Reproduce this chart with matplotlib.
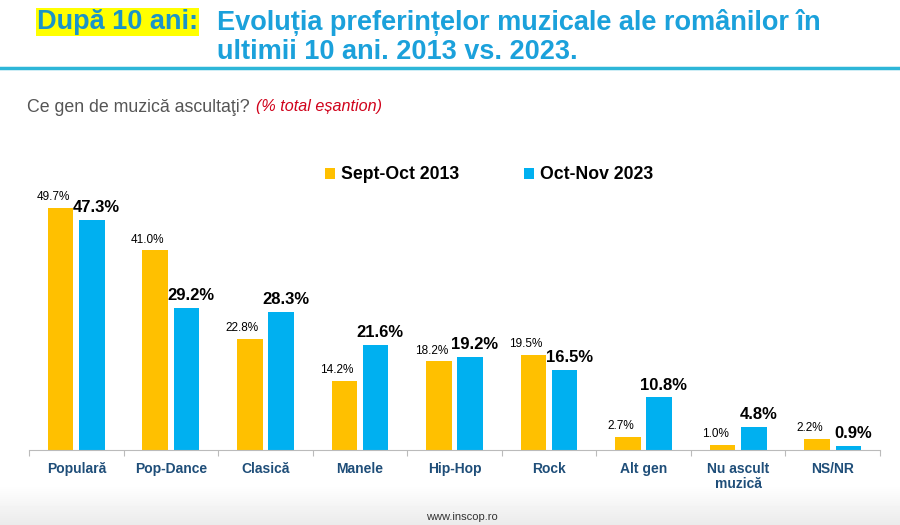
import numpy as np
import matplotlib.pyplot as plt

plt.rcParams['font.family'] = ['Liberation Sans', 'DejaVu Sans']

categories = ["Populară", "Pop-Dance", "Clasică", "Manele", "Hip-Hop", "Rock",
              "Alt gen", "Nu ascult\nmuzică", "NS/NR"]
values_2013 = [49.7, 41.0, 22.8, 14.2, 18.2, 19.5, 2.7, 1.0, 2.2]
values_2023 = [47.3, 29.2, 28.3, 21.6, 19.2, 16.5, 10.8, 4.8, 0.9]
series_names = ["Sept-Oct 2013", "Oct-Nov 2023"]

orange = "#FFC000"
blue = "#00B0F0"
title_blue = "#1BA1DB"
cat_color = "#1F4E79"

fig = plt.figure(figsize=(9, 5.25), dpi=100)

# soft grey band at the bottom of the slide
bg = fig.add_axes([0, 0, 1, 1], zorder=-10)
grad = np.ones((525, 1))
ramp = np.linspace(0, 1, 40)
grad[-40:, 0] = 1 - 0.08 * ramp
bg.imshow(grad, cmap="gray", vmin=0, vmax=1, aspect="auto", extent=[0, 1, 0, 1])
bg.axis("off")

# title
tsize = 19.5
fig.text(37 / 900, 1 - 22 / 525, "După 10 ani:", color="#1A94C8", fontsize=tsize,
         fontweight="bold", va="center", ha="left",
         bbox=dict(facecolor="#FFFF00", edgecolor="none", pad=1.0))
fig.text(217 / 900, 1 - 22 / 525, "Evoluția preferințelor muzicale ale românilor în",
         color=title_blue, fontsize=tsize, fontweight="bold", va="center", ha="left")
fig.text(217 / 900, 1 - 52 / 525, "ultimii 10 ani. 2013 vs. 2023.",
         color=title_blue, fontsize=tsize, fontweight="bold", va="center", ha="left")
fig.add_artist(plt.Line2D([0, 1], [1 - 68 / 525] * 2, color="#2DB6D8", lw=2.5))

# question line
fig.text(27 / 900, 1 - 107 / 525, "Ce gen de muzică ascultaţi?", color="#555555",
         fontsize=12.8, va="center", ha="left")
fig.text(256 / 900, 1 - 107 / 525, "(% total eșantion)", color="#D0021B", fontsize=11.6,
         style="italic", va="center", ha="left")

ax = fig.add_axes([29 / 900, 1 - 450 / 525, 851 / 900, 260 / 525])
x = np.arange(len(categories))
w = 0.27
off = 0.165
b1 = ax.bar(x - off, values_2013, w, color=orange, label=series_names[0])
b2 = ax.bar(x + off, values_2023, w, color=blue, label=series_names[1])

for xi, v in zip(x, values_2013):
    ax.text(xi - off - 0.08, v + 1.0, f"{v:.1f}%", ha="center", va="bottom", fontsize=8.5)
for xi, v in zip(x, values_2023):
    ax.text(xi + off + 0.05, v + 1.0, f"{v:.1f}%", ha="center", va="bottom",
            fontsize=12, fontweight="bold")

ax.set_xlim(-0.5, len(categories) - 0.5)
ax.set_ylim(0, 53.4)
ax.set_yticks([])
for s in ["top", "right", "left"]:
    ax.spines[s].set_visible(False)
ax.spines["bottom"].set_color("#BBBBBB")
ax.set_xticks(np.arange(len(categories) + 1) - 0.5)
ax.set_xticklabels([])
ax.tick_params(axis="x", length=4, color="#BBBBBB")
for xi, c in zip(x, categories):
    ax.text(xi, -2.4, c, ha="center", va="top", fontsize=10, fontweight="bold",
            color=cat_color, linespacing=1.15)
ax.patch.set_alpha(0)

leg = fig.legend(handles=[b1, b2], loc="center left", bbox_to_anchor=(325 / 900, 1 - 175 / 525),
                 ncol=2, frameon=False, fontsize=12.7, handlelength=0.55, handleheight=0.55,
                 handletextpad=0.35, columnspacing=3.7, borderpad=0, borderaxespad=0)
for t in leg.get_texts():
    t.set_fontweight("bold")

fig.text(462 / 900, 1 - 517 / 525, "www.inscop.ro", ha="center", va="center", fontsize=8,
         color="#333333")

fig.savefig("out.png", dpi=100)
